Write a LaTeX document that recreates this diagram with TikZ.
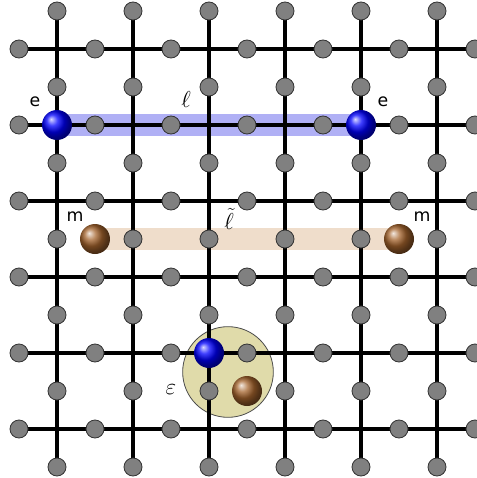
\documentclass[tikz,border=0pt]{standalone}
\usepackage{fontspec}
\setsansfont{DejaVu Sans}
\definecolor{ribblue}{RGB}{176,176,245}
\definecolor{ribbrown}{RGB}{239,221,203}
\definecolor{epsfill}{RGB}{224,219,170}
\definecolor{mbrown}{RGB}{165,100,45}
\definecolor{sitegray}{RGB}{128,128,128}
\tikzset{
  lat/.style={line width=3pt, black},
  site/.style={circle, draw=black!80, line width=0.6pt, fill=sitegray, minimum size=13.5pt, inner sep=0pt},
  echarge/.style={circle, shading=ball, ball color=blue, minimum size=22.5pt, inner sep=0pt},
  mcharge/.style={circle, shading=ball, ball color=mbrown, minimum size=22.5pt, inner sep=0pt},
  lbl/.style={font=\sffamily\fontsize{13}{15}\selectfont, inner sep=0pt},
  mlbl/.style={font=\fontsize{17}{19}\selectfont, inner sep=0pt}
}
\begin{document}
\begin{tikzpicture}[x=0.75pt, y=-0.75pt]
\useasboundingbox (0,0) rectangle (477,478);
\clip (0,0) rectangle (477,478);
% ribbons
\coordinate (e1) at (57,125);
\coordinate (e2) at (361,125);
\coordinate (m1) at (95,239);
\coordinate (m2) at (399,239);
\draw[line width=16.5pt, ribblue] (e1) -- (e2);
\draw[line width=16.5pt, ribbrown] (m1) -- (m2);
% epsilon region
\node[circle, draw=black!70, line width=0.6pt, fill=epsfill, minimum size=68pt, inner sep=0pt] (eps) at (228,372) {};
% lattice
\foreach \j in {0,...,5}{
  \coordinate (hl\j) at (19,49+76*\j);
  \coordinate (hr\j) at (475,49+76*\j);
  \draw[lat] (hl\j) -- (hr\j);
}
\foreach \i in {0,...,5}{
  \coordinate (vt\i) at (57+76*\i,11);
  \coordinate (vb\i) at (57+76*\i,467);
  \draw[lat] (vt\i) -- (vb\i);
}
\foreach \j in {0,...,5}{
  \foreach \k in {0,...,6}{
    \node[site] (h-\j-\k) at (19+76*\k,49+76*\j) {};
  }
}
\foreach \i in {0,...,5}{
  \foreach \k in {0,...,6}{
    \node[site] (v-\i-\k) at (57+76*\i,11+76*\k) {};
  }
}
% charges
\node[echarge] (E1) at (e1) {};
\node[echarge] (E2) at (e2) {};
\node[mcharge] (M1) at (m1) {};
\node[mcharge] (M2) at (m2) {};
\node[echarge] (E3) at (209,353) {};
\node[mcharge] (M3) at (247,391) {};
% labels
\node[lbl] (le1) at (35,102) {e};
\node[lbl] (le2) at (383,102) {e};
\node[lbl] (lm1) at (75,217) {m};
\node[lbl] (lm2) at (422,217) {m};
\node[mlbl] (lell) at (186,100) {$\ell$};
\node[mlbl] (ltell) at (229,219) {$\tilde{\ell}$};
\node[mlbl] (leps) at (171,390) {$\varepsilon$};
\end{tikzpicture}
\end{document}
